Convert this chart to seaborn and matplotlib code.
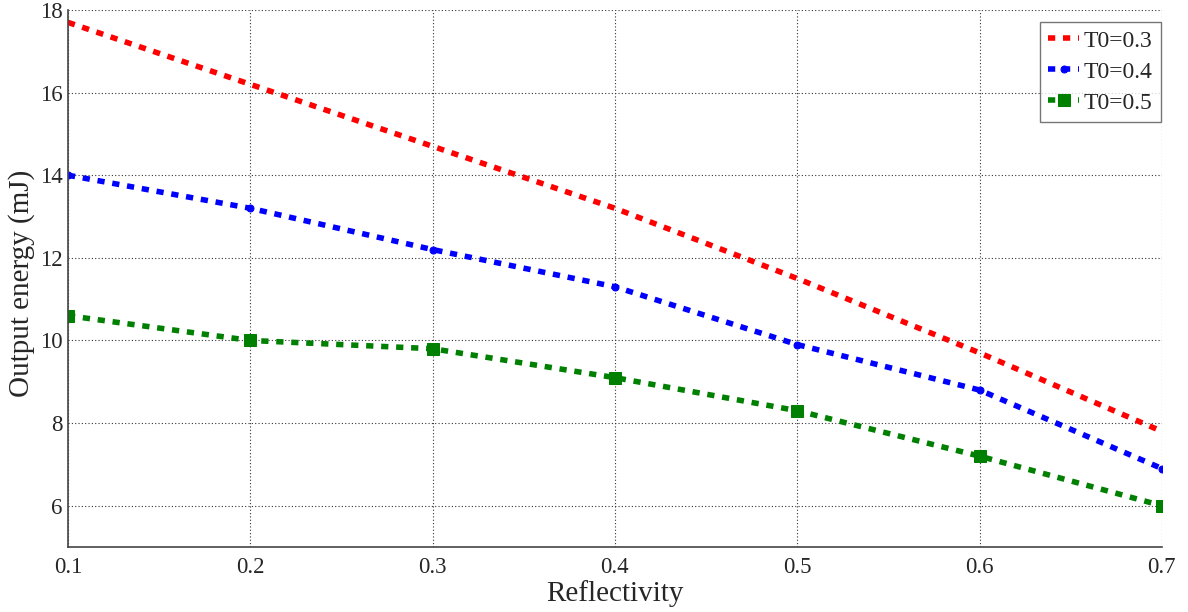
import numpy as np
import pandas as pd
import matplotlib
matplotlib.use("Agg")
import matplotlib.pyplot as plt
import seaborn as sns

reflectivity = [0.1, 0.2, 0.3, 0.4, 0.5, 0.6, 0.7]
energy_t03 = [17.7, 16.2, 14.7, 13.2, 11.5, 9.7, 7.8]
energy_t04 = [14.0, 13.2, 12.2, 11.3, 9.9, 8.8, 6.9]
energy_t05 = [10.6, 10.0, 9.8, 9.1, 8.3, 7.2, 6.0]
series_labels = ["T0=0.3", "T0=0.4", "T0=0.5"]
x_ticks = [0.1, 0.2, 0.3, 0.4, 0.5, 0.6, 0.7]
y_ticks = [6, 8, 10, 12, 14, 16, 18]

sns.set_style("white")
plt.rcParams["font.family"] = ["Liberation Serif", "DejaVu Serif"]

df = pd.DataFrame({
    "Reflectivity": reflectivity * 3,
    "Energy": energy_t03 + energy_t04 + energy_t05,
    "Series": [series_labels[0]] * 7 + [series_labels[1]] * 7 + [series_labels[2]] * 7,
})

fig = plt.figure(figsize=(11.88, 6.12), dpi=100)
ax = fig.add_axes([0.0572, 0.1062, 0.9208, 0.8775])

styles = {
    series_labels[0]: dict(color="#ff0000", marker=None, ms=0),
    series_labels[1]: dict(color="#0000ff", marker="o", ms=5),
    series_labels[2]: dict(color="#008000", marker="s", ms=8),
}
for name, st in styles.items():
    sub = df[df["Series"] == name]
    sns.lineplot(data=sub, x="Reflectivity", y="Energy", ax=ax, color=st["color"],
                 linewidth=4, linestyle=(0, (1.3, 1.4)), marker=st["marker"],
                 markersize=st["ms"], markeredgecolor=st["color"], label=name)

ax.set_xlim(0.1, 0.7)
ax.set_ylim(5, 18)
ax.set_xticks(x_ticks)
ax.set_xticklabels([f"{v:g}" for v in x_ticks])
ax.set_yticks(y_ticks)
ax.grid(True, color="#333333", linestyle=(0, (1, 2)), linewidth=0.8)
ax.tick_params(axis="both", direction="in", labelsize=16.5, length=5, color="#444444", pad=4)
ax.tick_params(axis="x", pad=7)
for side in ["top", "right"]:
    ax.spines[side].set_visible(False)
for side in ["left", "bottom"]:
    ax.spines[side].set_color("#444444")
    ax.spines[side].set_linewidth(1.2)

ax.set_xlabel("Reflectivity", fontsize=21, labelpad=2)
ax.set_ylabel("Output energy (mJ)", fontsize=21)
ax.yaxis.set_label_coords(-0.030, 0.49)

leg = ax.legend(loc="upper right", bbox_to_anchor=(0.999, 0.978), fontsize=17,
                frameon=True, fancybox=False, handlelength=1.3, handletextpad=0.2,
                borderpad=0.35, labelspacing=0.4, borderaxespad=0.0)
leg.get_frame().set_edgecolor("#555555")
leg.get_frame().set_linewidth(1.0)

fig.savefig("out.png", dpi=100)
